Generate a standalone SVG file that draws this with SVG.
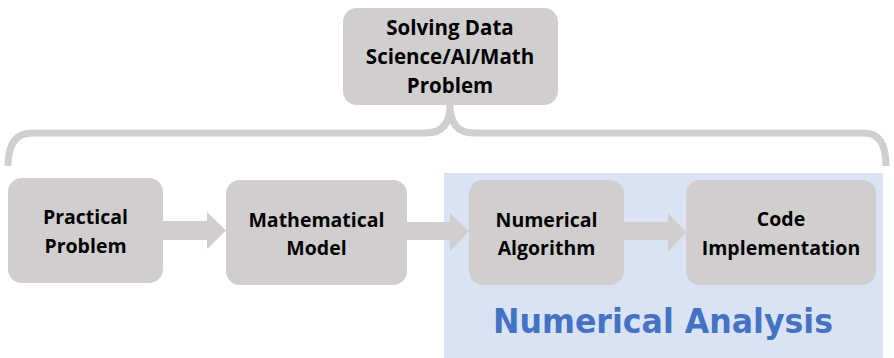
<svg xmlns="http://www.w3.org/2000/svg" width="894" height="358" viewBox="0 0 894 358">
<style>
.box{fill:#d0cece;}
.t{font-family:"Open Sans",Lato,"Liberation Sans",sans-serif;font-weight:bold;font-size:19.5px;fill:#000;text-anchor:middle;}
.tt{font-size:20.5px;}
.arr{fill:#d0cece;}
.br{fill:none;stroke:#d0cece;stroke-width:7;stroke-linecap:butt;}
</style>
<rect x="0" y="0" width="894" height="358" fill="#fff"/>
<rect id="na-bg" x="444" y="173" width="439" height="185" fill="#dae3f3"/>
<g id="connectors">
<path class="br" d="M 8 166 Q 8 133 32 133 L 426 133 Q 450 133 450 105 Q 450 133 474 133 L 864 133 Q 886 133 886 166"/>
<polygon class="arr" points="163,221 207,221 207,212 226,230.5 207,249 207,240 163,240"/>
<polygon class="arr" points="407,222 450,222 450,213 469,231.5 450,251 450,240 407,240"/>
<polygon class="arr" points="624,222 668,222 668,213 686,232 668,252 668,240 624,240"/>
</g>
<g id="top">
<rect class="box" x="343" y="8" width="215" height="97" rx="14"/>
<text class="t tt" x="450" y="35">Solving Data</text>
<text class="t tt" x="450" y="64">Science/AI/Math</text>
<text class="t tt" x="450" y="93">Problem</text>
</g>
<g id="practical">
<rect class="box" x="8" y="178" width="155" height="105" rx="14"/>
<text class="t" x="85.5" y="224">Practical</text>
<text class="t" x="85.5" y="253">Problem</text>
</g>
<g id="math">
<rect class="box" x="226" y="180" width="181" height="105" rx="14"/>
<text class="t" x="316.5" y="227">Mathematical</text>
<text class="t" x="316.5" y="255">Model</text>
</g>
<g id="numerical">
<rect class="box" x="469" y="180" width="155" height="105" rx="14"/>
<text class="t" x="546.5" y="227">Numerical</text>
<text class="t" x="546.5" y="255">Algorithm</text>
</g>
<g id="code">
<rect class="box" x="686" y="180" width="190" height="105" rx="14"/>
<text class="t" x="781" y="226">Code</text>
<text class="t" x="781" y="255">Implementation</text>
</g>
<text x="663" y="333" text-anchor="middle" font-family="'DejaVu Sans',Verdana,sans-serif" font-weight="bold" font-size="34" fill="#4472c4" textLength="340" lengthAdjust="spacingAndGlyphs">Numerical Analysis</text>
</svg>
